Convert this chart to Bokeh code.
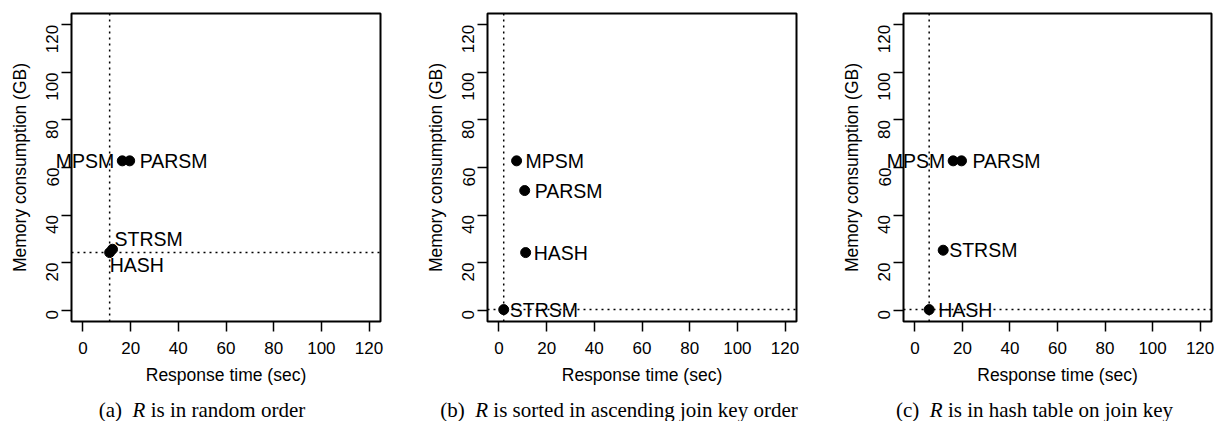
import math
from bokeh.plotting import figure
from bokeh.models import Range1d, Span, FixedTicker, ColumnDataSource, Div
from bokeh.layouts import row, column
from bokeh.core.properties import value
from bokeh.embed import file_html
from bokeh.resources import INLINE

# ---------------- data ----------------
algos_a = ["MPSM", "PARSM", "STRSM", "HASH"]
time_a = [16.5, 19.6, 12.4, 11.2]
mem_a = [62.8, 62.8, 25.6, 24.2]

algos_b = ["MPSM", "PARSM", "STRSM", "HASH"]
time_b = [7.4, 10.8, 2.0, 11.2]
mem_b = [62.8, 50.3, 0.2, 24.2]

algos_c = ["MPSM", "PARSM", "STRSM", "HASH"]
time_c = [16.1, 19.6, 11.9, 6.0]
mem_c = [62.8, 62.8, 25.2, 0.2]

axis_ticks = [0, 20, 40, 60, 80, 100, 120]
x_title = "Response time (sec)"
y_title = "Memory consumption (GB)"
captions = [("(a)", "R", " is in random order"),
            ("(b)", "R", " is sorted in ascending join key order"),
            ("(c)", "R", " is in hash table on join key")]

# ---------------- label placement (styles, screen px; dy > 0 = down) ----------------
align_a = ["right", "left", "left", "left"]
dx_a = [-8, 10, 2, 0]
dy_a = [0, 0, -10, 12]

align_b = ["left", "left", "left", "left"]
dx_b = [9, 10, 6, 8]
dy_b = [0, 0, 0, 0]

align_c = ["right", "left", "left", "left"]
dx_c = [-8, 11, 6, 9]
dy_c = [0, 0, 0, 0]

SANS = "Liberation Sans"
SERIF = "Liberation Serif"


def make_panel(names, xs, ys, aligns, dxs, dys, bl, br, fw):
    p = figure(frame_width=fw, frame_height=308,
               x_range=Range1d(-4.8, 124.8), y_range=Range1d(-4.8, 124.8),
               output_backend="svg", toolbar_location=None,
               min_border_left=bl, min_border_right=br,
               min_border_top=13, min_border_bottom=66)
    p.grid.visible = False
    p.outline_line_color = "black"
    p.outline_line_width = 2
    p.background_fill_color = "white"
    p.border_fill_color = "white"
    for ax in list(p.xaxis) + list(p.yaxis):
        ax.ticker = FixedTicker(ticks=axis_ticks)
        ax.bounds = (0, 120)
        ax.axis_line_color = None
        ax.major_tick_in = 0
        ax.major_tick_out = 10
        ax.major_tick_line_width = 1.5
        ax.major_tick_line_color = "black"
        ax.minor_tick_line_color = None
        ax.major_label_text_font = SANS
        ax.major_label_text_font_size = "17px"
        ax.major_label_text_color = "black"
        ax.axis_label_text_font = SANS
        ax.axis_label_text_font_size = "17.5px"
        ax.axis_label_text_font_style = "normal"
        ax.axis_label_text_color = "black"
        ax.axis_label_standoff = 8
    p.xaxis.major_label_standoff = 10
    p.yaxis.major_label_standoff = 9
    p.xaxis.axis_label = x_title
    p.yaxis.axis_label = y_title
    p.yaxis.major_label_orientation = math.pi / 2

    # reference lines through the minimum time and minimum memory
    p.add_layout(Span(location=min(xs), dimension="height", line_color="black",
                      line_width=1.5, line_dash="2 4"))
    p.add_layout(Span(location=min(ys), dimension="width", line_color="black",
                      line_width=1.5, line_dash="2 4"))

    src = ColumnDataSource(dict(x=xs, y=ys, name=names, align=aligns,
                                dx=dxs, dy=dys))
    p.scatter("x", "y", source=src, size=10, color="black")
    # drawn at overlay level so labels may run past the plot box, as in the original
    p.text("x", "y", text="name", source=src, x_offset="dx", y_offset="dy",
           text_align="align", text_baseline="middle",
           text_font=value(SANS), text_font_size="19.5px", text_color="black",
           level="overlay")
    return p


def make_caption(cap, width, shift):
    a, r, rest = cap
    html = (f'<div style="position:relative; left:{shift}px; margin-top:13px; '
            f'text-align:center; width:{width}px; font-family:\'{SERIF}\'; '
            f'font-size:21px; line-height:21px; white-space:nowrap; color:black;">'
            f'{a}&nbsp;&nbsp;<i>{r}</i>{rest}</div>')
    return Div(text=html, width=width, height=34, margin=(0, 0, 0, 0))


pa = make_panel(algos_a, time_a, mem_a, align_a, dx_a, dy_a, 71, 20, 309)
pb = make_panel(algos_b, time_b, mem_b, align_b, dx_b, dy_b, 87, 20, 309)
pc = make_panel(algos_c, time_c, mem_c, align_c, dx_c, dy_c, 87, 4, 308)

ca = make_caption(captions[0], 400, 2)
cb = make_caption(captions[1], 416, 11)
cc = make_caption(captions[2], 399, 19)

layout = row(column(pa, ca, spacing=0), column(pb, cb, spacing=0),
             column(pc, cc, spacing=0), spacing=0)

with open("out.html", "w") as f:
    f.write(file_html(layout, INLINE))
